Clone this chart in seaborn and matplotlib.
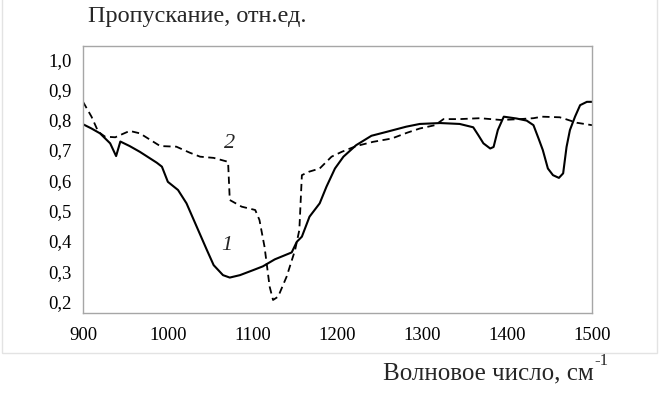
import matplotlib
matplotlib.use("Agg")
import matplotlib.pyplot as plt
import seaborn as sns
import pandas as pd
from matplotlib.patches import Rectangle

# Спектр 1 (сплошная линия)
wn_1 = [900, 910, 920, 932, 939, 944, 955, 967, 987, 993, 1000, 1012, 1022, 1034,
        1046, 1054, 1065, 1073, 1085, 1101, 1112, 1126, 1146, 1152, 1158, 1167,
        1179, 1187, 1197, 1207, 1222, 1240, 1258, 1281, 1297, 1321, 1344, 1360,
        1366, 1372, 1380, 1384, 1389, 1396, 1411, 1423, 1431, 1437, 1442, 1448,
        1454, 1461, 1466, 1470, 1474, 1480, 1486, 1494, 1500]
tr_1 = [0.785, 0.771, 0.755, 0.722, 0.68, 0.728, 0.713, 0.694, 0.658, 0.645, 0.595,
        0.568, 0.524, 0.447, 0.37, 0.32, 0.287, 0.279, 0.287, 0.304, 0.316, 0.339,
        0.362, 0.397, 0.414, 0.48, 0.524, 0.579, 0.639, 0.678, 0.716, 0.747, 0.76,
        0.777, 0.786, 0.789, 0.786, 0.775, 0.749, 0.722, 0.705, 0.71, 0.766, 0.81,
        0.804, 0.797, 0.782, 0.738, 0.7, 0.639, 0.617, 0.608, 0.623, 0.71, 0.766,
        0.81, 0.848, 0.859, 0.859]

# Спектр 2 (пунктир)
wn_2 = [900, 910, 918, 926, 938, 946, 955, 967, 991, 1010, 1026, 1038, 1054, 1071,
        1073, 1087, 1103, 1108, 1114, 1120, 1124, 1130, 1140, 1150, 1155, 1158,
        1166, 1179, 1193, 1205, 1222, 1242, 1264, 1282, 1297, 1315, 1325, 1344,
        1368, 1393, 1415, 1431, 1441, 1462, 1470, 1482, 1500]
tr_2 = [0.859, 0.81, 0.76, 0.744, 0.742, 0.752, 0.763, 0.755, 0.713, 0.711, 0.691,
        0.678, 0.674, 0.661, 0.535, 0.513, 0.502, 0.469, 0.38, 0.249, 0.205, 0.216,
        0.282, 0.37, 0.436, 0.617, 0.628, 0.639, 0.678, 0.694, 0.713, 0.727, 0.738,
        0.757, 0.771, 0.782, 0.802, 0.802, 0.805, 0.799, 0.802, 0.805, 0.81, 0.808,
        0.801, 0.79, 0.782]

x_ticks = [900, 1000, 1100, 1200, 1300, 1400, 1500]
y_ticks = [0.2, 0.3, 0.4, 0.5, 0.6, 0.7, 0.8, 0.9, 1.0]
y_tick_labels = ["0,2", "0,3", "0,4", "0,5", "0,6", "0,7", "0,8", "0,9", "1,0"]

sns.set_style("white")
plt.rcParams["font.family"] = ["Liberation Serif", "DejaVu Serif"]

fig = plt.figure(figsize=(6.61, 3.99), dpi=100)
ax = fig.add_axes([0.1256, 0.2155, 0.77, 0.669])

# рамка области диаграммы
fig.patches.append(Rectangle((0.003, 0.115), 0.991, 0.9, transform=fig.transFigure,
                             fill=False, edgecolor="#e3e3e3", linewidth=1))

df1 = pd.DataFrame({"x": wn_1, "y": tr_1})
df2 = pd.DataFrame({"x": wn_2, "y": tr_2})
sns.lineplot(data=df1, x="x", y="y", ax=ax, color="black", linewidth=1.5, sort=False)
sns.lineplot(data=df2, x="x", y="y", ax=ax, color="black", linewidth=1.3,
             linestyle=(0, (4, 2.5)), sort=False)

ax.set_xlim(900, 1500)
ax.set_ylim(0.162, 1.043)
ax.set_xticks(x_ticks)
ax.set_yticks(y_ticks)
ax.set_yticklabels(y_tick_labels)
ax.set_xlabel("")
ax.set_ylabel("")
ax.tick_params(axis="both", labelsize=13.5, colors="#a0a0a0", labelcolor="black",
               length=3, width=0.8, direction="out", pad=5)
ax.tick_params(axis="x", pad=7)
for s in ax.spines.values():
    s.set_color("#a6a6a6")
    s.set_linewidth(1)

ax.text(1073, 0.723, "2", fontsize=16, style="italic", ha="center", va="center")
ax.text(1069, 0.386, "1", fontsize=16, style="italic", ha="center", va="center")

fig.text(0.133, 0.945, "Пропускание, отн.ед.", fontsize=17.5, ha="left", va="baseline")
xl = fig.text(0.579, 0.05, "Волновое число, см", fontsize=18, ha="left", va="baseline")

# верхний индекс "-1"
fig.canvas.draw()
bb = xl.get_window_extent()
fig.text((bb.x1 + 0.5) / fig.bbox.width, 0.086, "-1", fontsize=12, ha="left", va="baseline")

fig.savefig("out.png", dpi=100)
